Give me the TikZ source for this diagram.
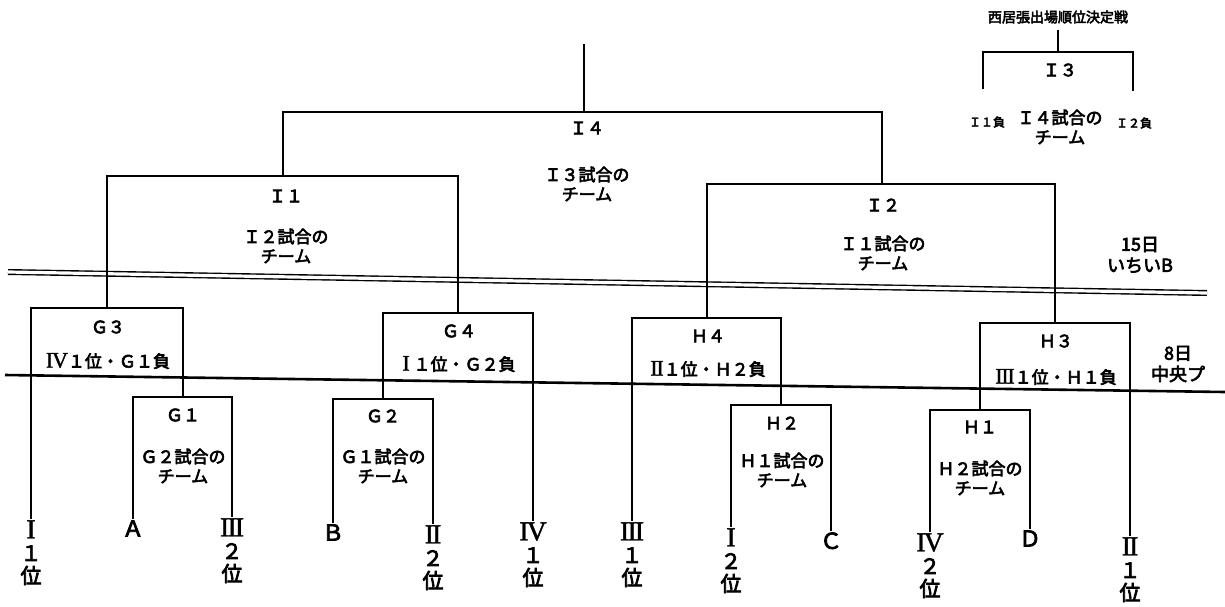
\documentclass[tikz,border=0pt]{standalone}
\usepackage{fontspec}
\newfontfamily\jpfont[RawFeature={embolden=3.5}]{Noto Sans CJK JP}
\newfontfamily\rnfont[Scale=1.3, RawFeature={embolden=1.5}, LetterSpace=-6]{Liberation Serif}
\newcommand\rn[1]{{\rnfont #1}}
\usetikzlibrary{calc}

\begin{document}
\begin{tikzpicture}[
  x=0.5pt, y=-0.5pt,
  line/.style={line width=1pt, line cap=rect},
  divider/.style={line width=0.7pt, double, double distance=1.6pt},
  rule/.style={line width=1.3pt},
  game/.style={font=\jpfont\fontsize{8.5}{9.5}\selectfont, inner sep=0pt, align=center},
  desc/.style={font=\jpfont\fontsize{8.5}{9.8}\selectfont, inner sep=0pt, align=center},
  team/.style={font=\jpfont\fontsize{10.5}{11.3}\selectfont, inner sep=1pt, anchor=north, align=center},
  letter/.style={team, font=\jpfont\fontsize{11}{11.5}\selectfont},
  small/.style={font=\jpfont\fontsize{6}{7}\selectfont, inner sep=0pt},
  note/.style={font=\jpfont\fontsize{9}{10.5}\selectfont, inner sep=0pt, align=center},
]
\useasboundingbox (0,0) rectangle (1225,606);

% day lines
\coordinate (dblL) at (8,272);
\coordinate (dblR) at (1207,293);
\coordinate (sglL) at (5,375);
\coordinate (sglR) at (1225,392);
\draw[divider] (dblL) -- (dblR);
\draw[rule] (sglL) -- (sglR);

% bracket tops
\coordinate (top) at (584,45);
\coordinate (I4) at (584,112);
\coordinate (I1) at (283,176);
\coordinate (I2) at (882,184);
\coordinate (G3) at (107,308);
\coordinate (G4) at (458,313);
\coordinate (H4) at (707,318);
\coordinate (H3) at (1055,323);
\coordinate (G1) at (183,397);
\coordinate (G2) at (383,399);
\coordinate (H2) at (781,405);
\coordinate (H1) at (980,410);

% teams
\node[team] (tI1) at (31,518) {\rn{I}\\１\\位};
\node[letter] (tA) at (133,518) {Ａ};
\node[team] (tIII2) at (232,516) {\rn{III}\\２\\位};
\node[letter] (tB) at (333,522) {Ｂ};
\node[team] (tII2) at (433,523) {\rn{II}\\２\\位};
\node[team] (tIV1) at (533,520) {\rn{IV}\\１\\位};
\node[team] (tIII1) at (632,520) {\rn{III}\\１\\位};
\node[team] (tI2) at (731,526) {\rn{I}\\２\\位};
\node[letter] (tC) at (831,530) {Ｃ};
\node[team] (tIV2) at (930,531) {\rn{IV}\\２\\位};
\node[letter] (tD) at (1030,528) {Ｄ};
\node[team] (tII1) at (1130,535) {\rn{II}\\１\\位};

% brackets
\draw[line] (top) -- (I4);
\draw[line] (I1) |- (I4) -| (I2);
\draw[line] (G3) |- (I1) -| (G4);
\draw[line] (H4) |- (I2) -| (H3);
\draw[line] (tI1.north) |- (G3) -| (G1);
\draw[line] (G2) |- (G4) -| (tIV1.north);
\draw[line] (tIII1.north) |- (H4) -| (H2);
\draw[line] (H1) |- (H3) -| (tII1.north);
\draw[line] (tA.north) |- (G1) -| (tIII2.north);
\draw[line] (tB.north) |- (G2) -| (tII2.north);
\draw[line] (tI2.north) |- (H2) -| (tC.north);
\draw[line] (tIV2.north) |- (H1) -| (tD.north);

% labels
\node[game] (I4name) at (587,128) {Ｉ４};
\node[desc] (I4desc) at (587,184) {Ｉ３試合の\\チーム};
\node[game] (I1name) at (286,196) {Ｉ１};
\node[desc] (I1desc) at (286,246) {Ｉ２試合の\\チーム};
\node[game] (I2name) at (883,205) {Ｉ２};
\node[desc] (I2desc) at (883,253) {Ｉ１試合の\\チーム};
\node[game] (G3name) at (108,327) {Ｇ３};
\node[desc] (G3desc) at (108,361) {\rn{IV}１位・Ｇ１負};
\node[game] (G4name) at (459,331) {Ｇ４};
\node[desc] (G4desc) at (459,364) {\rn{I} １位・Ｇ２負};
\node[game] (H4name) at (708,336) {Ｈ４};
\node[desc] (H4desc) at (708,369) {\rn{II}１位・Ｈ２負};
\node[game] (H3name) at (1056,341) {Ｈ３};
\node[desc] (H3desc) at (1056,377) {\rn{III}１位・Ｈ１負};
\node[game] (G1name) at (183,415) {Ｇ１};
\node[desc] (G1desc) at (183,466) {Ｇ２試合の\\チーム};
\node[game] (G2name) at (383,416) {Ｇ２};
\node[desc] (G2desc) at (383,466) {Ｇ１試合の\\チーム};
\node[game] (H2name) at (782,423) {Ｈ２};
\node[desc] (H2desc) at (782,470) {Ｈ１試合の\\チーム};
\node[game] (H1name) at (980,427) {Ｈ１};
\node[desc] (H1desc) at (980,478) {Ｈ２試合の\\チーム};

% day notes
\node[note] (day15) at (1140,255) {15日\\いちいB};
\node[note] (day8) at (1178,364) {8日\\中央プ};

% placing match
\node[font=\jpfont\fontsize{7}{8}\selectfont, inner sep=0pt] (title) at (1058,17) {西居張出場順位決定戦};
\coordinate (i3top) at (1058,31);
\coordinate (I3) at (1058,52);
\coordinate (i3l) at (983,88);
\coordinate (i3r) at (1133,90);
\draw[line] (i3top) -- (I3);
\draw[line] (i3l) |- (I3) -| (i3r);
\node[game] (I3name) at (1060,70) {Ｉ３};
\node[desc] (I3desc) at (1060,127) {Ｉ４試合の\\チーム};
\node[small] (I1lose) at (987,122) {Ｉ１負};
\node[small] (I2lose) at (1134,123) {Ｉ２負};

\end{tikzpicture}
\end{document}
